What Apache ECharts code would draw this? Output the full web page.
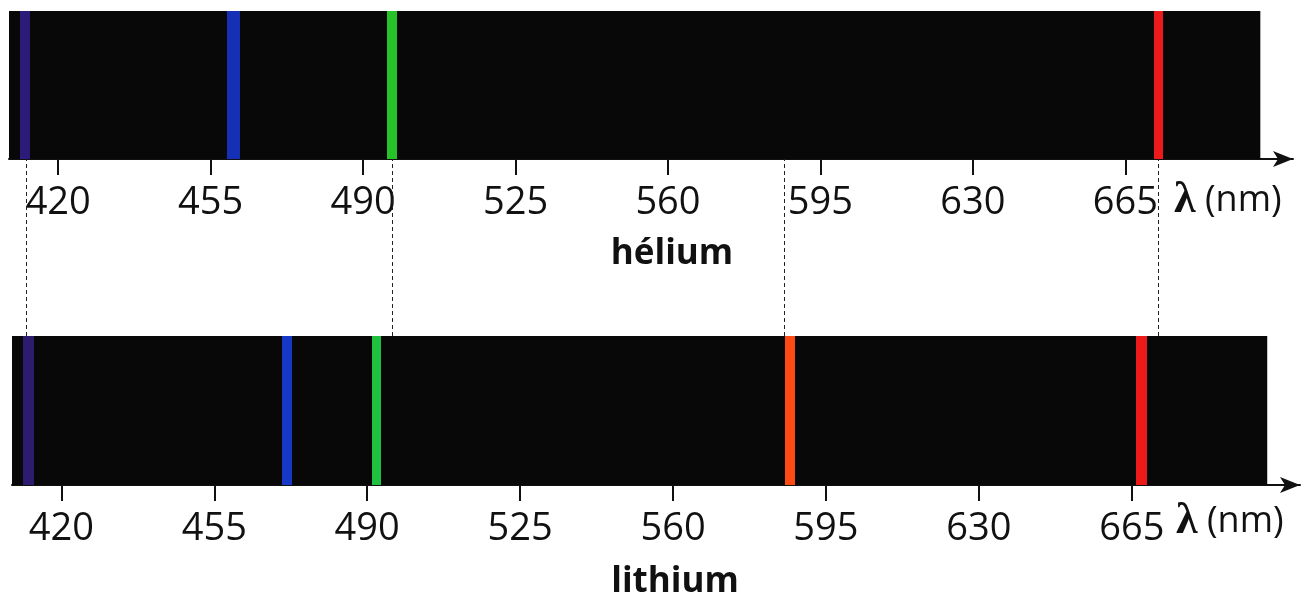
<!DOCTYPE html>
<html>
<head>
<meta charset="utf-8">
<script src="https://cdn.jsdelivr.net/npm/echarts@6/dist/echarts.min.js"></script>
<style>
  html, body { margin: 0; padding: 0; background: #fff; }
</style>
</head>
<body>
<div id="main" style="width: 1307px; height: 600px"></div>
<script>
// wavelengths in nm
const tickValues = [420, 455, 490, 525, 560, 595, 630, 665];
const spectrumRange = [408.7, 696];
const heliumLines = [412.4, 460.1, 496.6, 672.5];
const lithiumLines = [412.4, 471.6, 492.0, 586.8, 667.1];
const dashedLinks = [412.6, 496.6, 586.8, 672.5];

// styles
const heliumColors = ["#2c1b78", "#1530b4", "#27c227", "#ec1a1a"];
const heliumWidths = [10, 13, 10, 9];
const lithiumColors = ["#2c1b6e", "#1638c8", "#20c040", "#ff4a14", "#ee1a1a"];
const lithiumWidths = [11, 10, 9, 10, 11];

const X_MIN = 408.7;
const X_MAX = 703.5;
const FONT = '"Open Sans", "Noto Sans", sans-serif';

const myChart = echarts.init(document.getElementById("main"));

function makeXAxis(gridIndex, showAxis) {
  return {
    gridIndex: gridIndex,
    type: "value",
    min: X_MIN,
    max: X_MAX,
    show: showAxis,
    splitLine: { show: false },
    axisLine: {
      show: true,
      lineStyle: { color: "#111", width: 2 },
      symbol: ["none", "arrow"],
      symbolSize: [12, 20],
    },
    axisTick: {
      show: true,
      customValues: tickValues,
      length: 16,
      lineStyle: { color: "#111", width: 2 },
    },
    axisLabel: {
      customValues: tickValues,
      fontSize: 38,
      fontFamily: FONT,
      color: "#111",
      margin: 25,
    },
  };
}

function makeYAxis(gridIndex) {
  return { gridIndex: gridIndex, type: "value", min: 0, max: 1, show: false };
}

function spectrumSeries(idx, lines, colors, widths) {
  return {
    type: "line",
    xAxisIndex: idx,
    yAxisIndex: idx,
    data: [],
    silent: true,
    markArea: {
      silent: true,
      itemStyle: { color: "#080808" },
      data: [[{ xAxis: spectrumRange[0], yAxis: 0 }, { xAxis: spectrumRange[1], yAxis: 1 }]],
    },
    markLine: {
      silent: true,
      symbol: ["none", "none"],
      label: { show: false },
      data: lines.map((x, i) => ({
        xAxis: x,
        lineStyle: { color: colors[i], width: widths[i], type: "solid", opacity: 1 },
      })),
    },
  };
}

function unitLabel(x, y) {
  return {
    type: "text",
    x: x, y: y,
    style: {
      text: "{l|λ}{u|\u00a0(nm)}",
      fill: "#111",
      align: "left",
      verticalAlign: "middle",
      rich: {
        l: { fontFamily: '"Liberation Serif", serif', fontWeight: "bold", fontSize: 44, fill: "#111" },
        u: { fontFamily: FONT, fontSize: 36, fill: "#111" },
      },
    },
  };
}

const option = {
  animation: false,
  grid: [
    { left: 9, right: 14, top: 11, height: 148 },
    { left: 12, right: 7, top: 336, height: 149 },
    { left: 9, right: 14, top: 159, height: 177 },
  ],
  xAxis: [makeXAxis(0, true), makeXAxis(1, true), makeXAxis(2, false)],
  yAxis: [makeYAxis(0), makeYAxis(1), makeYAxis(2)],
  series: [
    spectrumSeries(0, heliumLines, heliumColors, heliumWidths),
    spectrumSeries(1, lithiumLines, lithiumColors, lithiumWidths),
    {
      type: "line",
      xAxisIndex: 2,
      yAxisIndex: 2,
      data: [],
      silent: true,
      markLine: {
        silent: true,
        symbol: ["none", "none"],
        label: { show: false },
        lineStyle: { color: "#222", width: 1, type: [4, 3] },
        data: dashedLinks.map((x) => ({ xAxis: x })),
      },
    },
  ],
  graphic: [
    {
      type: "text",
      x: 672, y: 237,
      style: { text: "hélium", font: "bold 35px " + FONT, fill: "#111", align: "center", verticalAlign: "top" },
    },
    {
      type: "text",
      x: 675, y: 565,
      style: { text: "lithium", font: "bold 35px " + FONT, fill: "#111", align: "center", verticalAlign: "top" },
    },
    unitLabel(1174, 201),
    unitLabel(1176, 522),
  ],
};

myChart.setOption(option);
</script>
</body>
</html>
